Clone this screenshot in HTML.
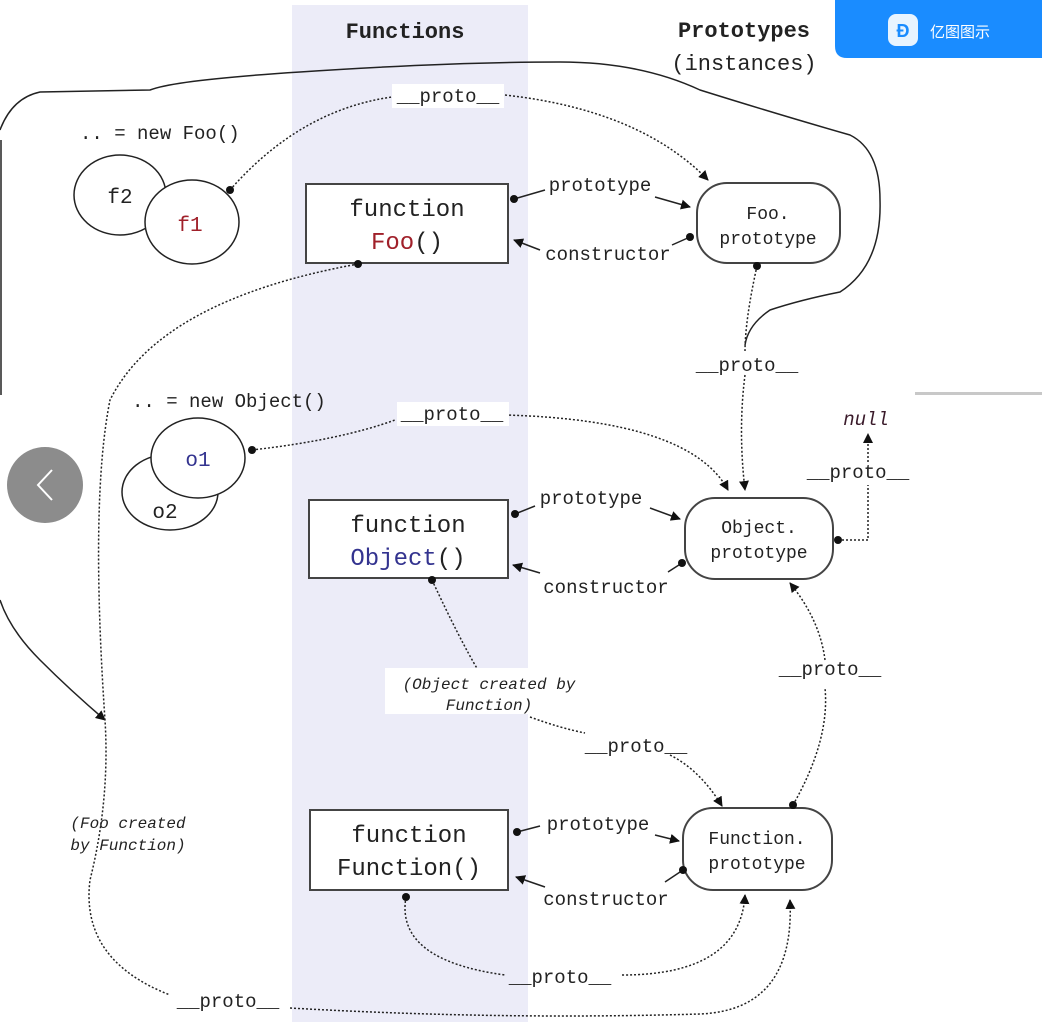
<!DOCTYPE html>
<html><head><meta charset="utf-8"><style>
html,body{margin:0;padding:0;background:#fff;width:1042px;height:1022px;overflow:hidden}
svg{display:block}
text{font-family:"Liberation Mono",monospace;fill:#222}
</style></head><body>
<svg width="1042" height="1022" viewBox="0 0 1042 1022" xmlns="http://www.w3.org/2000/svg">
<defs>
<marker id="a" markerWidth="10" markerHeight="10" refX="9" refY="5" orient="auto" markerUnits="userSpaceOnUse"><path d="M0,0 L10,5 L0,10 Z" fill="#111"/></marker>
<marker id="d" markerWidth="8" markerHeight="8" refX="4" refY="4" markerUnits="userSpaceOnUse"><circle cx="4" cy="4" r="4" fill="#111"/></marker>
</defs>
<rect x="292" y="5" width="236" height="1017" fill="#ececf8"/>
<rect x="915" y="392" width="127" height="3" fill="#c8c8c8"/>
<!-- headers -->
<text x="405" y="38" font-size="22" font-weight="bold" text-anchor="middle">Functions</text>
<text x="744" y="37" font-size="22" font-weight="bold" text-anchor="middle">Prototypes</text>
<text x="744" y="70" font-size="22" text-anchor="middle">(instances)</text>
<!-- badge -->
<path d="M835,0 H1042 V58 H847 Q835,58 835,46 Z" fill="#1a8cff"/>
<rect x="888" y="14" width="30" height="32" rx="8" fill="#fff" opacity="0.9"/>
<text x="903" y="37" font-size="18" text-anchor="middle" style="fill:#1a8cff;font-family:'Liberation Sans',sans-serif;font-weight:bold">Ð</text>
<text x="930" y="37" font-size="15" style="fill:#fff;font-family:'Liberation Sans','Noto Sans CJK SC',sans-serif">亿图图示</text>
<!-- solid outer curve -->
<path d="M0,130 Q12,98 40,92 L150,90 Q175,80 300,72 Q450,62 560,62 Q640,62 700,90 Q780,115 850,135 Q880,150 880,200 Q882,265 840,292 Q800,300 770,310 Q748,325 745,345" fill="none" stroke="#222" stroke-width="1.5"/>
<path d="M1,140 V395" stroke="#222" stroke-width="1.5"/>
<path d="M0,600 Q10,630 40,660 Q70,690 105,720" fill="none" stroke="#222" stroke-width="1.5" marker-end="url(#a)"/>
<!-- gray button -->
<circle cx="45" cy="485" r="38" fill="#8c8c8c"/>
<path d="M52,470 L38,485 L52,500" fill="none" stroke="#fff" stroke-width="2"/>
<!-- f circles -->
<text x="80" y="139" font-size="19">.. = new Foo()</text>
<ellipse cx="120" cy="195" rx="46" ry="40" fill="#fff" stroke="#222" stroke-width="1.5"/>
<ellipse cx="192" cy="222" rx="47" ry="42" fill="#fff" stroke="#222" stroke-width="1.5"/>
<text x="120" y="203" font-size="21" text-anchor="middle">f2</text>
<text x="190" y="231" font-size="21" text-anchor="middle" style="fill:#a0202a">f1</text>
<!-- o circles -->
<text x="132" y="407" font-size="19">.. = new Object()</text>
<ellipse cx="170" cy="492" rx="48" ry="38" fill="#fff" stroke="#222" stroke-width="1.5"/>
<ellipse cx="198" cy="458" rx="47" ry="40" fill="#fff" stroke="#222" stroke-width="1.5"/>
<text x="165" y="518" font-size="21" text-anchor="middle">o2</text>
<text x="198" y="466" font-size="21" text-anchor="middle" style="fill:#33338f">o1</text>
<!-- boxes -->
<g stroke="#444" stroke-width="2" fill="#fff">
<rect x="306" y="184" width="202" height="79"/>
<rect x="309" y="500" width="199" height="78"/>
<rect x="310" y="810" width="198" height="80"/>
<rect x="697" y="183" width="143" height="80" rx="30"/>
<rect x="685" y="498" width="148" height="81" rx="30"/>
<rect x="683" y="808" width="149" height="82" rx="30"/>
</g>
<g font-size="24" text-anchor="middle">
<text x="407" y="216">function</text>
<text x="407" y="249"><tspan style="fill:#a0202a">Foo</tspan>()</text>
<text x="408" y="532">function</text>
<text x="408" y="565"><tspan style="fill:#33338f">Object</tspan>()</text>
<text x="409" y="842">function</text>
<text x="409" y="875">Function()</text>
</g>
<g font-size="18" text-anchor="middle">
<text x="768" y="219">Foo.</text>
<text x="768" y="244">prototype</text>
<text x="759" y="533">Object.</text>
<text x="759" y="558">prototype</text>
<text x="757" y="844">Function.</text>
<text x="757" y="869">prototype</text>
</g>
<!-- prototype/constructor arrows -->
<g stroke="#222" stroke-width="1.5" fill="none">
<path d="M514,199 L545,190" marker-start="url(#d)"/><path d="M655,197 L690,207" marker-end="url(#a)"/>
<path d="M690,237 L672,245"  marker-start="url(#d)"/><path d="M540,250 L514,240" marker-end="url(#a)"/>
<path d="M515,514 L535,506" marker-start="url(#d)"/><path d="M650,508 L680,519" marker-end="url(#a)"/>
<path d="M682,563 L668,572" marker-start="url(#d)"/><path d="M540,573 L513,565" marker-end="url(#a)"/>
<path d="M517,832 L540,826" marker-start="url(#d)"/><path d="M655,835 L679,841" marker-end="url(#a)"/>
<path d="M683,870 L665,882" marker-start="url(#d)"/><path d="M545,887 L516,877" marker-end="url(#a)"/>
</g>
<g font-size="19" text-anchor="middle">
<text x="600" y="191">prototype</text>
<text x="608" y="260">constructor</text>
<text x="591" y="504">prototype</text>
<text x="606" y="593">constructor</text>
<text x="598" y="830">prototype</text>
<text x="606" y="905">constructor</text>
</g>
<!-- dotted proto links -->
<g stroke="#222" stroke-width="1.5" fill="none" stroke-dasharray="2,2">
<path d="M230,190 Q300,110 392,97" marker-start="url(#d)"/>
<path d="M505,95 Q640,110 708,180" marker-end="url(#a)"/>
<path d="M358,264 Q160,300 110,400 Q90,500 105,720 Q110,800 90,880 Q80,960 170,995"  marker-start="url(#d)"/>
<path d="M290,1008 Q500,1020 700,1014 Q795,1010 790,900" marker-end="url(#a)"/>
<path d="M757,266 Q745,320 745,352" marker-start="url(#d)"/>
<path d="M745,375 Q738,430 745,490" marker-end="url(#a)"/>
<path d="M252,450 Q340,440 395,420" marker-start="url(#d)"/>
<path d="M505,415 Q690,420 728,490" marker-end="url(#a)"/>
<path d="M838,540 L868,540 L868,485" marker-start="url(#d)"/>
<path d="M868,462 L868,434" marker-end="url(#a)"/>
<path d="M432,580 Q460,640 478,670" marker-start="url(#d)"/>
<path d="M530,717 Q560,728 585,733"/>
<path d="M670,755 Q700,770 722,806" marker-end="url(#a)"/>
<path d="M793,805 Q830,740 825,688" marker-start="url(#d)"/>
<path d="M825,660 Q820,620 790,583" marker-end="url(#a)"/>
<path d="M406,897 Q395,960 505,975" marker-start="url(#d)"/>
<path d="M622,975 Q740,975 745,895" marker-end="url(#a)"/>
</g>
<!-- proto labels -->
<g font-size="19" text-anchor="middle">
<rect x="392" y="84" width="112" height="24" fill="#fff"/>
<text x="448" y="102">__proto__</text>
<rect x="397" y="402" width="112" height="24" fill="#fff"/>
<text x="452" y="420">__proto__</text>
<text x="747" y="371">__proto__</text>
<text x="858" y="478">__proto__</text>
<text x="830" y="675">__proto__</text>
<text x="636" y="752">__proto__</text>
<text x="560" y="983">__proto__</text>
<text x="228" y="1007">__proto__</text>
</g>
<text x="866" y="425" font-size="19" font-style="italic" text-anchor="middle" style="fill:#3a1a2a">null</text>
<g font-size="16" font-style="italic" text-anchor="middle">
<rect x="385" y="668" width="205" height="46" fill="#fff"/>
<text x="489" y="689">(Object created by</text>
<text x="489" y="710">Function)</text>
<text x="128" y="828">(Foo created</text>
<text x="128" y="850">by Function)</text>
</g>
</svg>
</body></html>
